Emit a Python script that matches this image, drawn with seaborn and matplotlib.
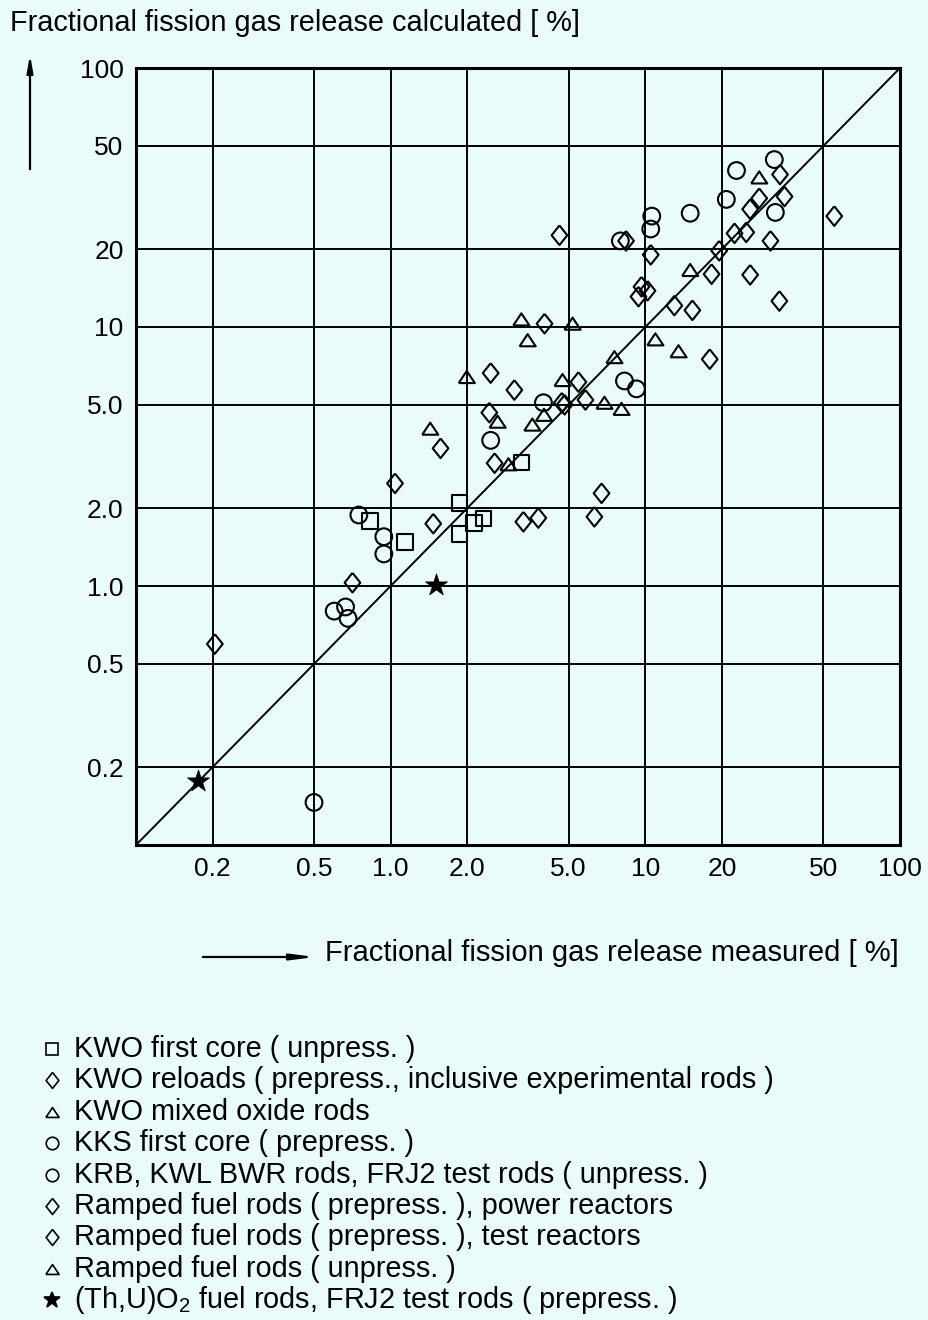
import numpy as np
import matplotlib
matplotlib.use("Agg")
import matplotlib.pyplot as plt
import seaborn as sns
from matplotlib.lines import Line2D
from matplotlib.ticker import NullLocator

# -----------------------------
# Data (measured vs calculated fission gas release, %)
# -----------------------------
kwo_first_x = [0.83, 1.14, 1.86, 1.86, 2.12, 2.31, 3.26]
kwo_first_y = [1.78, 1.48, 2.09, 1.59, 1.75, 1.82, 3.0]

kwo_reload_x = [0.204, 0.708, 1.04, 1.47, 1.57, 2.56, 2.44, 2.47, 3.06, 3.32, 3.80, 4.02, 4.6]
kwo_reload_y = [0.597, 1.03, 2.49, 1.74, 3.40, 2.98, 4.67, 6.64, 5.71, 1.77, 1.83, 10.3, 22.6]

kwo_mox_x = [1.43, 1.99, 2.63, 2.90, 3.26, 3.45, 3.60, 4.0]
kwo_mox_y = [4.05, 6.41, 4.31, 2.95, 10.7, 8.89, 4.20, 4.58]

kks_x = [8.28, 9.23, 7.98, 10.6, 10.5, 15.0, 22.8, 20.8, 32.1, 32.4]
kks_y = [6.19, 5.77, 21.5, 26.8, 23.9, 27.5, 40.2, 31.1, 44.3, 27.7]

krb_x = [0.50, 0.60, 0.665, 0.68, 0.75, 0.94, 0.94, 2.47, 3.98]
krb_y = [0.146, 0.80, 0.83, 0.75, 1.88, 1.55, 1.33, 3.65, 5.1]

ramp_power_x = [5.46, 5.82, 4.82, 4.7, 6.73, 6.31, 8.4, 10.5, 9.4, 10.2, 9.66, 13.0, 15.3]
ramp_power_y = [6.13, 5.23, 5.01, 5.1, 2.28, 1.85, 21.5, 19.0, 13.1, 13.8, 14.3, 12.1, 11.6]

ramp_test_x = [18.2, 19.5, 22.4, 24.9, 25.8, 28.0, 25.8, 31.0, 33.6, 33.8, 35.2, 55.2, 17.9]
ramp_test_y = [16.0, 19.7, 23.0, 23.2, 28.5, 31.4, 15.9, 21.5, 12.6, 38.8, 31.9, 26.8, 7.51]

ramp_unpress_x = [5.18, 4.73, 6.91, 7.56, 8.06, 10.95, 13.5, 15.0, 28.0]
ramp_unpress_y = [10.3, 6.24, 5.1, 7.65, 4.83, 8.96, 8.06, 16.6, 37.8]

thu_x = [0.175, 1.50]
thu_y = [0.177, 1.01]

labels = [
    "KWO first core ( unpress. )",
    "KWO reloads ( prepress., inclusive experimental rods )",
    "KWO mixed oxide rods",
    "KKS first core ( prepress. )",
    "KRB, KWL BWR rods, FRJ2 test rods ( unpress. )",
    "Ramped fuel rods ( prepress. ), power reactors",
    "Ramped fuel rods ( prepress. ), test reactors",
    "Ramped fuel rods ( unpress. )",
    "(Th,U)O$_2$ fuel rods, FRJ2 test rods ( prepress. )",
]

grid_vals = [0.2, 0.5, 1, 2, 5, 10, 20, 50, 100]
x_tick_labels = ["0.2", "0.5", "1.0", "2.0", "5.0", "10", "20", "50", "100"]
y_tick_labels = ["0.2", "0.5", "1.0", "2.0", "5.0", "10", "20", "50", "100"]

# -----------------------------
# Style
# -----------------------------
bg = "#eafbfb"
sns.set_style("white")
plt.rcParams["font.family"] = ["Liberation Sans", "DejaVu Sans"]
plt.rcParams["mathtext.fontset"] = "custom"
plt.rcParams["mathtext.rm"] = "Liberation Sans"
plt.rcParams["text.color"] = "black"
plt.rcParams["xtick.color"] = "black"
plt.rcParams["ytick.color"] = "black"

diamond = [(0, 1), (0.8, 0), (0, -1), (-0.8, 0), (0, 1)]
triangle = [(-1, -0.75), (1, -0.75), (0, 0.75), (-1, -0.75)]

groups = [
    (kwo_first_x, kwo_first_y, "s", 125),
    (kwo_reload_x, kwo_reload_y, diamond, 200),
    (kwo_mox_x, kwo_mox_y, triangle, 135),
    (kks_x, kks_y, "o", 145),
    (krb_x, krb_y, "o", 145),
    (ramp_power_x, ramp_power_y, diamond, 200),
    (ramp_test_x, ramp_test_y, diamond, 200),
    (ramp_unpress_x, ramp_unpress_y, triangle, 135),
]

fig = plt.figure(figsize=(9.29, 13.2), dpi=100, facecolor=bg)
ax = fig.add_axes([136 / 929, 1 - 845 / 1320, 764 / 929, 777 / 1320])
ax.set_facecolor(bg)

ax.set_xscale("log")
ax.set_yscale("log")
ax.set_xlim(0.1, 100)
ax.set_ylim(0.1, 100)

# diagonal: calculated = measured
ax.plot([0.1, 100], [0.1, 100], color="black", lw=1.4, zorder=2)

for gx, gy, mk, size in groups:
    sns.scatterplot(x=gx, y=gy, marker=mk, s=size, facecolor="none",
                    edgecolor="black", linewidth=1.5, ax=ax, zorder=3)

sns.scatterplot(x=thu_x, y=thu_y, marker="*", s=280, color="black",
                edgecolor="black", linewidth=0.5, ax=ax, zorder=4)

ax.set_xticks(grid_vals)
ax.set_xticklabels(x_tick_labels)
ax.set_yticks(grid_vals)
ax.set_yticklabels(y_tick_labels)
ax.xaxis.set_minor_locator(NullLocator())
ax.yaxis.set_minor_locator(NullLocator())
ax.tick_params(length=0, labelsize=19, pad=9, colors="black")
ax.grid(True, color="black", lw=1.4)
ax.set_axisbelow(True)
for sp in ax.spines.values():
    sp.set_color("black")
    sp.set_linewidth(2.2)

# axis titles with arrows
fig.text(10 / 929, 1 - 23 / 1320, "Fractional fission gas release calculated [ %]",
         fontsize=20.8, va="center", ha="left")
ax.annotate("", xy=(30, 1320 - 52), xytext=(30, 1320 - 172),
            xycoords="figure pixels", textcoords="figure pixels",
            arrowprops=dict(arrowstyle="-|>,head_length=1.0,head_width=0.18",
                            color="black", lw=1.6))

fig.text(325 / 929, 1 - 953 / 1320, "Fractional fission gas release measured [ %]",
         fontsize=21, va="center", ha="left")
ax.annotate("", xy=(318, 1320 - 957), xytext=(200, 1320 - 957),
            xycoords="figure pixels", textcoords="figure pixels",
            arrowprops=dict(arrowstyle="-|>,head_length=1.4,head_width=0.18",
                            color="black", lw=1.6))

# legend written below the chart
leg_markers = ["s", diamond, triangle, "o", "o", diamond, diamond, triangle, "*"]
leg_sizes = [9, 11.5, 9.5, 9, 9, 11.5, 11.5, 9.5, 12]
for i, (mk, lab) in enumerate(zip(leg_markers, labels)):
    yy = 1 - (1049 + i * 31.4) / 1320
    filled = isinstance(mk, str) and mk == "*"
    fig.add_artist(Line2D([52 / 929], [yy], transform=fig.transFigure,
                          marker=mk, markersize=leg_sizes[i],
                          mfc="black" if filled else "none",
                          mec="black", mew=1.2, ls="none"))
    fig.text(74 / 929, yy, lab, fontsize=20.8, va="center", ha="left")

plt.savefig("out.png", dpi=100, facecolor=bg)
